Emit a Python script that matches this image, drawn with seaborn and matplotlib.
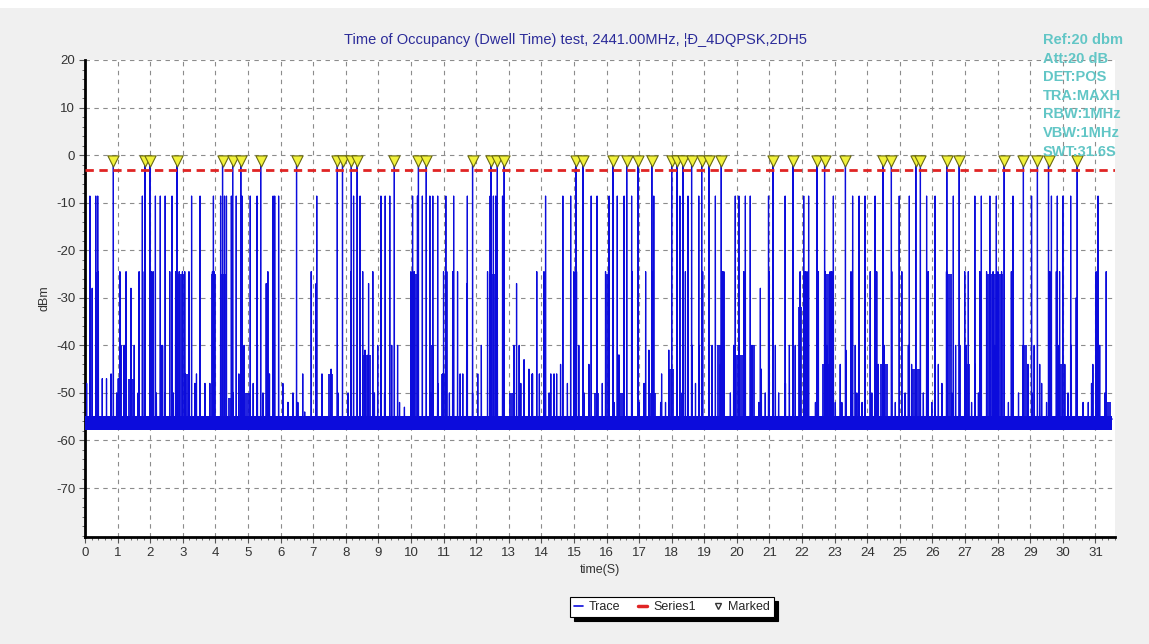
import numpy as np
import pandas as pd
import seaborn as sns
import matplotlib.pyplot as plt
from matplotlib.lines import Line2D
from matplotlib.patches import Rectangle
from matplotlib.ticker import MultipleLocator

# ---------------- data ----------------
title = "Time of Occupancy (Dwell Time) test, 2441.00MHz, \u00a6\u0110_4DQPSK,2DH5"
info_lines = ["Ref:20 dbm", "Att:20 dB", "DET:POS", "TRA:MAXH", "RBW:1MHz", "VBW:1MHz", "SWT:31.6S"]
x_ticks = list(range(0, 32))
y_ticks = [20, 10, 0, -10, -20, -30, -40, -50, -60, -70]

# marked hops (yellow triangles), seconds
marked_t = [0.87, 1.84, 1.99, 2.82, 4.22, 4.53, 4.78, 5.39, 6.49, 7.74, 7.90, 8.17, 8.35,
            9.49, 10.23, 10.47, 11.89, 12.46, 12.65, 12.86, 15.06, 15.28, 16.20, 16.62,
            16.97, 17.39, 18.00, 18.16, 18.35, 18.61, 18.92, 19.14, 19.52, 21.11, 21.72,
            22.46, 22.69, 23.33, 24.48, 24.74, 25.49, 25.63, 26.44, 26.82, 28.20, 28.79,
            29.22, 29.56, 30.44]
marked_level = -1.3
threshold = -3.1

# tall spikes (about -8.6 dBm)
tall_t = [0.15, 0.33, 0.39, 1.76, 2.16, 2.31, 2.46, 2.67, 3.27, 3.53, 3.94, 4.16, 4.28,
          4.34, 4.49, 4.64, 4.82, 5.07, 5.28, 5.77, 5.82, 5.94, 7.11, 8.24, 8.44, 9.08,
          9.21, 9.35, 10.05, 10.20, 10.35, 10.58, 10.67, 10.82, 11.07, 11.31, 11.73,
          12.43, 12.53, 12.60, 12.81, 14.13, 14.66, 14.90, 15.53, 15.71, 16.08, 16.33,
          16.54, 16.77, 17.45, 18.25, 18.50, 18.83, 19.34, 19.95, 20.06, 20.26, 20.41,
          20.97, 21.48, 22.05, 22.20, 22.96, 23.55, 23.75, 23.93, 24.24, 24.98, 25.29,
          25.82, 26.08, 26.64, 27.30, 27.50, 27.76, 27.96, 28.47, 29.04, 29.65, 29.83,
          30.00, 30.24, 31.08]
tall_level = -8.6

# medium spikes
mid_t = [0.22, 0.41, 1.07, 1.26, 1.41, 1.66, 1.82, 2.04, 2.09, 2.60, 2.78, 2.89, 2.99,
         3.06, 3.19, 3.91, 3.96, 5.56, 5.61, 6.94, 7.09, 8.16, 8.52, 8.70, 8.83, 10.00,
         10.10, 11.00, 11.10, 11.28, 11.43, 11.71, 12.35, 12.65, 13.24, 13.86, 14.08,
         15.00, 15.08, 15.97, 16.06, 16.79, 17.20, 17.40, 18.42, 18.95, 19.55, 19.60,
         20.21, 20.72, 20.99, 21.94, 22.10, 22.15, 22.50, 22.71, 22.86, 22.91, 23.50,
         24.09, 24.29, 24.75, 25.06, 25.87, 26.43, 26.99, 27.10, 27.45, 27.66, 27.86,
         28.01, 28.12, 28.42, 29.60, 29.80, 29.90, 30.41, 31.02, 31.33]
mid_h = [-28, -24.5, -24.5, -24.5, -28, -24.5, -24.5, -24.5, -24.5, -24.5, -24.5, -24.5, -24.5,
         -24.5, -24.5, -24.5, -24.5, -27, -24.5, -24.5, -27, -24.5, -24.5, -27, -24.5, -24.5,
         -24.5, -24.5, -24.5, -24.5, -24.5, -27, -24.5, -24.5, -27, -24.5, -24.5,
         -24.5, -24.5, -24.5, -24.5, -24.5, -24.5, -24.5, -24.5, -24.5, -24.5, -24.5,
         -24.5, -28, -24.5, -24.5, -24.5, -24.5, -24.5, -24.5, -24.5, -24.5, -24.5,
         -24.5, -24.5, -24.5, -24.5, -24.5, -24.5, -24.5, -24.5, -24.5, -24.5, -24.5,
         -24.5, -24.5, -24.5, -24.5, -24.5, -24.5, -30, -24.5, -24.5]

# lower spikes
low_t = [1.10, 1.20, 1.51, 2.33, 2.38, 3.08, 3.42, 4.72, 4.88, 5.29, 5.66, 6.22, 6.68,
         7.55, 8.59, 8.69, 8.98, 9.41, 9.59, 10.66, 10.97, 11.51, 12.16, 13.16, 13.32,
         13.47, 13.62, 13.72, 14.29, 14.47, 14.59, 15.15, 15.46, 16.38, 17.30, 17.69,
         17.91, 18.63, 18.83, 19.24, 19.49, 19.90, 20.06, 20.46, 20.75, 21.18, 21.61,
         21.79, 22.76, 23.17, 23.34, 23.63, 24.34, 24.52, 25.26, 25.36, 26.18, 26.71,
         26.84, 27.04, 27.30, 27.91, 28.78, 28.93, 29.12, 29.29, 29.85, 30.06, 30.26,
         30.92, 31.13]
low_h = [-40, -40, -40, -40, -40, -46, -46, -46, -40, -40, -46, -52, -46,
         -45, -41, -42, -40, -40, -40, -40, -46, -46, -40, -40, -40,
         -43, -45, -46, -46, -46, -44, -40, -44, -42, -41, -46,
         -41, -40, -40, -40, -44, -40, -40, -40, -45, -40, -40,
         -40, -40, -44, -41, -40, -44, -40, -40, -44, -44, -40,
         -40, -40, -44, -40, -40, -44, -40, -44, -40, -44, -40,
         -44, -40]

# small spikes just above the noise floor
small_t = [0.05, 0.53, 0.66, 0.80, 0.97, 1.02, 1.63, 2.19, 2.45, 2.71, 3.37, 3.68, 3.83,
           4.54, 5.16, 5.46, 6.07, 6.23, 6.38, 6.53, 6.74, 7.27, 7.76, 8.07, 8.88, 9.19,
           9.65, 9.80, 10.62, 10.82, 11.18, 11.59, 11.89, 12.05, 12.86, 13.37, 13.73,
           13.94, 14.24, 14.39, 14.80, 15.31, 15.87, 16.23, 17.00, 17.15, 17.66, 17.81,
           18.32, 18.73, 19.14, 19.80, 20.67, 20.87, 21.28, 21.49, 22.41, 23.02, 23.22,
           23.68, 23.84, 24.14, 24.86, 25.16, 25.72, 25.98, 26.29, 26.59, 27.20, 27.41,
           28.33, 28.64, 29.05, 29.35, 29.50, 30.16, 30.62, 30.78, 30.88, 31.29]
small_h = [-48, -47, -47, -46, -50, -47, -50, -50, -50, -50, -48, -48, -48,
           -50, -48, -50, -48, -52, -50, -52, -54, -46, -50, -50, -50, -50,
           -52, -53, -50, -48, -50, -46, -50, -46, -50, -48, -46,
           -46, -50, -46, -48, -50, -48, -52, -52, -48, -52, -52,
           -50, -48, -52, -50, -52, -50, -50, -48, -52, -52, -52,
           -50, -52, -50, -52, -50, -50, -52, -48, -50, -52, -50,
           -52, -50, -50, -48, -52, -50, -52, -52, -48, -50]

# dense bursts (start s, end s, level dBm)
burst_start = [0.31, 2.76, 3.88, 4.13, 3.06, 8.52, 10.00, 10.62, 12.40, 15.00, 1.33, 2.30,
               4.39, 4.85, 7.45, 10.92, 13.02, 15.62, 15.97, 16.33, 17.30, 17.35, 17.91,
               19.39, 19.50, 19.90, 20.41, 21.87, 22.61, 22.70, 24.40, 25.36, 26.44, 27.00,
               27.66, 28.74, 29.81, 31.34]
burst_end = [0.43, 3.06, 4.03, 4.37, 3.16, 8.78, 10.20, 10.72, 12.66, 15.09, 1.53, 2.40,
             4.49, 5.05, 7.60, 11.03, 13.12, 15.77, 16.08, 16.58, 17.51, 17.45, 18.07,
             19.65, 19.60, 20.26, 20.57, 21.99, 22.92, 22.86, 24.65, 25.62, 26.59, 27.15,
             28.17, 28.89, 30.01, 31.49]
burst_level = [-24.5, -25, -25, -25, -46, -42, -25, -40, -25, -25, -47, -40,
               -51, -50, -46, -46, -50, -50, -25, -50, -50, -25, -45,
               -40, -25, -42, -40, -32, -44, -25, -44, -45, -25, -44,
               -25, -40, -44, -52]

floor_low, floor_high, floor_line = -57.8, -54.8, -55.5
trace_end = 31.52

# ---------------- style ----------------
sns.set_theme(style="white")
plt.rcParams['font.family'] = ['Liberation Sans', 'DejaVu Sans']
plt.rcParams['axes.unicode_minus'] = False

BG = '#f0f0f0'
TRACE = '#0c0cdc'

fig = plt.figure(figsize=(11.49, 6.44), dpi=100, facecolor=BG)
fig.add_artist(Rectangle((0, 1 - 8 / 644), 1, 8 / 644, transform=fig.transFigure,
                         facecolor='white', edgecolor='none'))
ax = fig.add_axes([85 / 1149, 1 - 537 / 644, (1115 - 85) / 1149, (537 - 60) / 644])
ax.set_facecolor('white')

# trace polyline built from the spike tables
ev = pd.DataFrame({
    't': tall_t + mid_t + low_t + small_t + marked_t,
    'h': [tall_level] * len(tall_t) + mid_h + low_h + small_h + [marked_level] * len(marked_t),
}).sort_values('t')
W = 0.004
xs, ys = [0.0], [floor_line]
for t, h in zip(ev['t'], ev['h']):
    xs += [t - W, t, t + W]
    ys += [floor_line, h, floor_line]
xs.append(trace_end)
ys.append(floor_line)

# noise floor band
ax.fill_between([0, trace_end], [floor_low, floor_low], [floor_high, floor_high],
                color=TRACE, lw=0, zorder=3)
# bursts
for s, e, lv in zip(burst_start, burst_end, burst_level):
    ax.fill_between([s, e], [floor_line, floor_line], [lv, lv], color=TRACE, lw=0,
                    alpha=0.9, zorder=3)

sns.lineplot(x=xs, y=ys, sort=False, estimator=None, ax=ax, color=TRACE, lw=0.9,
             zorder=3, legend=False)

ax.axhline(threshold, color='#e02424', lw=2.0, ls=(0, (3, 2)), zorder=4)

sns.scatterplot(x=marked_t, y=[marked_level] * len(marked_t), marker='v', s=65,
                color='#f2f23c', edgecolor='#6a6a10', linewidth=0.8, ax=ax, zorder=6,
                legend=False)

# axes
ax.set_xlim(0, 31.6)
ax.set_ylim(-80.3, 20)
ax.set_xticks(x_ticks)
ax.set_yticks(y_ticks)
ax.xaxis.set_minor_locator(MultipleLocator(0.2))
ax.yaxis.set_minor_locator(MultipleLocator(2))
ax.grid(True, which='major', color='#8c8c8c', ls=(0, (4, 4)), lw=0.8, zorder=1)
ax.set_axisbelow(True)
for side in ['top', 'right']:
    ax.spines[side].set_visible(False)
for side in ['left', 'bottom']:
    ax.spines[side].set_color('black')
    ax.spines[side].set_linewidth(2)
ax.tick_params(which='both', bottom=True, left=True, direction='out', color='#555555')
ax.tick_params(which='major', length=4, width=0.8, labelsize=9.5, labelcolor='#333333', pad=3)
ax.tick_params(which='minor', length=2, width=0.6)
ax.set_xlabel('time(S)', fontsize=9, color='#333333', labelpad=4)
ax.set_ylabel('dBm', fontsize=9, color='#333333', labelpad=4)

fig.text(575 / 1149, 1 - 40 / 644, title, ha='center', va='center', fontsize=10.5,
         color='#2b2b99')

for i, line in enumerate(info_lines):
    fig.text(1043 / 1149, 1 - (40 + 18.6 * i) / 644, line, ha='left', va='center',
             fontsize=10.5, fontweight='bold', color='#62c6c6')

handles = [Line2D([], [], color=TRACE, lw=1.2),
           Line2D([], [], color='#e02424', lw=2.5),
           Line2D([], [], ls='none', marker='v', markersize=5, markerfacecolor='white',
                  markeredgecolor='#333333')]
leg = fig.legend(handles, ['Trace', 'Series1', 'Marked'], loc='center',
                 bbox_to_anchor=(672 / 1149, 1 - 607 / 644), ncol=3, frameon=True,
                 fancybox=False, edgecolor='black', framealpha=1, fontsize=9,
                 handlelength=0.7, handletextpad=0.5, columnspacing=1.4, borderpad=0.3,
                 shadow={'color': 'black', 'alpha': 1, 'ox': 3, 'oy': -3})
leg.get_frame().set_linewidth(0.8)

fig.savefig('out.png', dpi=100, facecolor=BG)
